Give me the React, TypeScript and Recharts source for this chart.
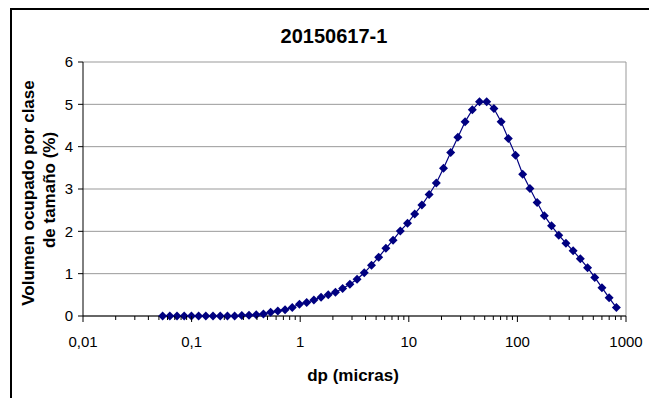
import { LineChart, Line, XAxis, YAxis, CartesianGrid, ReferenceLine } from 'recharts'

// particle size classes (micras) and volume per class (%)
const dp = [
  0.0541, 0.063, 0.0734, 0.0855, 0.0996, 0.116, 0.1352, 0.1575, 0.1835, 0.2137,
  0.2489, 0.2901, 0.3379, 0.3937, 0.4586, 0.5342, 0.6223, 0.7251, 0.8449, 0.9842,
  1.147, 1.336, 1.556, 1.813, 2.112, 2.46, 2.867, 3.34, 3.89, 4.532,
  5.28, 6.151, 7.165, 8.349, 9.725, 11.33, 13.2, 15.38, 17.92, 20.87,
  24.31, 28.32, 32.99, 38.44, 44.78, 52.17, 60.77, 70.79, 82.48, 96.09,
  111.9, 130.4, 151.9, 177.0, 206.2, 240.2, 279.9, 326.0, 379.8, 442.5,
  515.5, 600.5, 699.6, 815.2,
]

const vol = [
  0, 0, 0, 0, 0, 0, 0, 0, 0, 0,
  0, 0.01, 0.02, 0.03, 0.05, 0.09, 0.12, 0.15, 0.2, 0.28,
  0.32, 0.38, 0.44, 0.5, 0.56, 0.65, 0.75, 0.87, 1.02, 1.2,
  1.39, 1.6, 1.79, 2.01, 2.19, 2.41, 2.62, 2.87, 3.14, 3.49,
  3.86, 4.22, 4.59, 4.87, 5.06, 5.06, 4.9, 4.59, 4.19, 3.8,
  3.35, 3.01, 2.68, 2.37, 2.13, 1.91, 1.72, 1.54, 1.35, 1.14,
  0.91, 0.67, 0.43, 0.2,
]

const yTicks = [0, 1, 2, 3, 4, 5, 6]
const xMajor = [0.01, 0.1, 1, 10, 100, 1000]
const xLabels = ['0,01', '0,1', '1', '10', '100', '1000']
const xMinorSteps = [2, 3, 4, 5, 6, 7, 8, 9]

const FONT = '"Liberation Sans", Arial, sans-serif'
const NAVY = '#000080'

const chartData = dp.map((d, i) => ({ dp: d, vol: vol[i] }))

const xTicks = [
  ...xMajor,
  ...xMajor.slice(0, -1).flatMap(m => xMinorSteps.map(s => Number((m * s).toPrecision(3)))),
].sort((a, b) => a - b)

function XTick(props: any) {
  const { x, y, payload } = props
  const i = xMajor.indexOf(payload.value)
  const major = i >= 0
  return (
    <g>
      <line x1={x} x2={x} y1={y} y2={y + (major ? 6 : 4)} stroke="#000" strokeWidth={1} />
      {major && (
        <text x={x} y={y + 31} textAnchor="middle" fontSize={15} fontFamily={FONT} fill="#000">
          {xLabels[i]}
        </text>
      )}
    </g>
  )
}

function Diamond(props: any) {
  const { cx, cy, index } = props
  if (cx == null || cy == null) return <g key={index} />
  const r = 4.5
  return (
    <polygon
      key={index}
      points={`${cx},${cy - r} ${cx + r},${cy} ${cx},${cy + r} ${cx - r},${cy}`}
      fill={NAVY}
    />
  )
}

export default function App() {
  return (
    <div style={{ position: 'fixed', left: 0, top: 0, width: 649, height: 398, overflow: 'hidden', background: '#fff' }}>
      <div style={{ position: 'absolute', left: 0, top: 0 }}>
        <LineChart width={649} height={398} data={chartData} margin={{ top: 62, right: 23, bottom: 42, left: 0 }}>
          <CartesianGrid vertical={false} stroke="#999" />
          <XAxis
            dataKey="dp"
            type="number"
            scale="log"
            domain={[0.01, 1000]}
            allowDataOverflow
            ticks={xTicks}
            interval={0}
            tick={<XTick />}
            tickLine={false}
            tickSize={0}
            tickMargin={0}
            axisLine={{ stroke: '#000' }}
            height={40}
          />
          <YAxis
            type="number"
            domain={[0, 6]}
            ticks={yTicks}
            interval={0}
            width={83}
            tickSize={5}
            tickMargin={5}
            axisLine={{ stroke: '#000' }}
            tickLine={{ stroke: '#000' }}
            tick={{ fontSize: 15, fill: '#000', fontFamily: FONT }}
          />
          <ReferenceLine x={1000} stroke="#999" />
          <Line
            type="linear"
            dataKey="vol"
            stroke={NAVY}
            strokeWidth={1.2}
            dot={Diamond}
            activeDot={false}
            isAnimationActive={false}
          />
        </LineChart>
      </div>
      <svg width={649} height={398} style={{ position: 'absolute', left: 0, top: 0, pointerEvents: 'none' }}>
        <rect x={11} y={9} width={700} height={500} fill="none" stroke="#000" strokeWidth={2} />
        <text x={334} y={43} textAnchor="middle" fontSize={20} fontWeight="bold" fontFamily={FONT} fill="#000">
          20150617-1
        </text>
        <text x={353} y={381} textAnchor="middle" fontSize={17} fontWeight="bold" fontFamily={FONT} fill="#000">
          dp (micras)
        </text>
        <text transform="translate(34,193) rotate(-90)" textAnchor="middle" fontSize={17} fontWeight="bold" fontFamily={FONT} fill="#000">
          Volumen ocupado por clase
        </text>
        <text transform="translate(55,190) rotate(-90)" textAnchor="middle" fontSize={17} fontWeight="bold" fontFamily={FONT} fill="#000">
          de tamaño (%)
        </text>
      </svg>
    </div>
  )
}
